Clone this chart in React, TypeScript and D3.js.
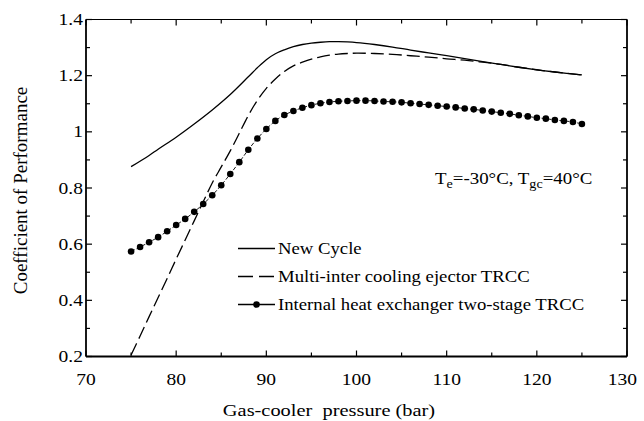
import React from 'react';
import * as d3 from 'd3';

// ---- data ----
const xTicks = [70, 80, 90, 100, 110, 120, 130];
const yTicks = [0.2, 0.4, 0.6, 0.8, 1.0, 1.2, 1.4];

const newCycleP = [75, 77, 78, 80, 82, 84, 86, 88, 89, 90, 91, 92, 93, 94, 95, 96, 97, 98, 99, 100, 102, 104, 106, 108, 110, 112, 114, 116, 118, 120, 122, 125];
const newCycleCOP = [0.876, 0.916, 0.938, 0.981, 1.028, 1.078, 1.133, 1.196, 1.228, 1.257, 1.278, 1.292, 1.303, 1.311, 1.316, 1.319, 1.321, 1.321, 1.320, 1.318, 1.311, 1.302, 1.291, 1.281, 1.271, 1.261, 1.250, 1.240, 1.230, 1.221, 1.213, 1.2025];

const ejectorP = [75, 76, 77, 78, 79, 80, 81, 82, 83, 84, 85, 86, 87, 88, 89, 90, 91, 92, 93, 94, 95, 96, 97, 98, 99, 100, 102, 104, 106, 108, 110, 112, 114, 116, 118, 120, 122, 125];
const ejectorCOP = [0.205, 0.273, 0.342, 0.410, 0.478, 0.547, 0.615, 0.683, 0.751, 0.818, 0.875, 0.932, 0.995, 1.058, 1.112, 1.155, 1.188, 1.215, 1.235, 1.248, 1.259, 1.267, 1.273, 1.277, 1.279, 1.280, 1.279, 1.276, 1.271, 1.266, 1.260, 1.255, 1.248, 1.240, 1.230, 1.221, 1.213, 1.2025];

const ihxP = [75, 76, 77, 78, 79, 80, 81, 82, 83, 84, 85, 86, 87, 88, 89, 90, 91, 92, 93, 94, 95, 96, 97, 98, 99, 100, 101, 102, 103, 104, 105, 106, 107, 108, 109, 110, 111, 112, 113, 114, 115, 116, 117, 118, 119, 120, 121, 122, 123, 124, 125];
const ihxCOP = [0.574, 0.590, 0.607, 0.625, 0.646, 0.668, 0.690, 0.715, 0.743, 0.774, 0.810, 0.850, 0.892, 0.936, 0.976, 1.010, 1.039, 1.060, 1.074, 1.086, 1.095, 1.102, 1.106, 1.109, 1.110, 1.111, 1.111, 1.110, 1.108, 1.107, 1.105, 1.102, 1.099, 1.096, 1.093, 1.090, 1.087, 1.083, 1.080, 1.076, 1.072, 1.068, 1.064, 1.059, 1.055, 1.050, 1.047, 1.042, 1.039, 1.035, 1.028];

const legendLabels = ['New Cycle', 'Multi-inter cooling ejector TRCC', 'Internal heat exchanger two-stage TRCC'];
const xLabel = 'Gas-cooler  pressure (bar)';
const yLabel = 'Coefficient of Performance';

const W = 644, H = 421;
const M = { left: 86, right: 627, top: 19.5, bottom: 356.5 };
const FONT = "'Liberation Serif', 'Times New Roman', Times, 'Nimbus Roman', 'DejaVu Serif', serif";

export default function App() {
  const x = d3.scaleLinear().domain([70, 130]).range([M.left, M.right]);
  const y = d3.scaleLinear().domain([0.2, 1.4]).range([M.bottom, M.top]);

  const line = d3.line<[number, number]>()
    .x(d => x(d[0])).y(d => y(d[1]))
    .curve(d3.curveCatmullRom.alpha(0.5));

  const newCycle: [number, number][] = newCycleP.map((p, i) => [p, newCycleCOP[i]]);
  const ejector: [number, number][] = ejectorP.map((p, i) => [p, ejectorCOP[i]]);
  const ihx: [number, number][] = ihxP.map((p, i) => [p, ihxCOP[i]]);

  const xMajor = x.ticks(6);
  const xMinor = d3.range(75, 130, 10);
  const yMinor = d3.range(0.3, 1.4, 0.2);

  const fmt = (v: number) => String(+v.toFixed(1));

  const legendX0 = 238, legendX1 = 275, legendTextX = 278;
  const legendY = [248.5, 276.5, 304.5];
  const ts = { fontFamily: FONT } as React.CSSProperties;

  return (
    <svg width={W} height={H} style={{ position: 'absolute', left: 0, top: 0, background: '#fff' }}>
      {/* curves */}
      <path d={line(newCycle) || ''} fill="none" stroke="#000" strokeWidth={1.3} />
      <path d={line(ejector) || ''} fill="none" stroke="#000" strokeWidth={1.3} strokeDasharray="13,5" />
      <path d={line(ihx) || ''} fill="none" stroke="#000" strokeWidth={0.9} strokeDasharray="4,2" />
      {ihx.map((d, i) => (
        <circle key={i} cx={x(d[0])} cy={y(d[1])} r={3.3} fill="#000" />
      ))}

      {/* frame */}
      <line x1={M.left} x2={M.right} y1={M.top} y2={M.top} stroke="#000" strokeWidth={1.2} />
      <line x1={M.left} x2={M.right} y1={M.bottom} y2={M.bottom} stroke="#000" strokeWidth={1.8} />
      <line x1={M.left} x2={M.left} y1={M.top} y2={M.bottom} stroke="#000" strokeWidth={1.8} />
      <line x1={M.right} x2={M.right} y1={M.top} y2={M.bottom} stroke="#000" strokeWidth={1.8} />

      {/* x ticks */}
      {xMajor.map(v => (
        <g key={'xm' + v}>
          <line x1={x(v)} x2={x(v)} y1={M.bottom} y2={M.bottom - 6} stroke="#000" strokeWidth={1.2} />
          <line x1={x(v)} x2={x(v)} y1={M.top} y2={M.top + 6} stroke="#000" strokeWidth={1.2} />
        </g>
      ))}
      {xMinor.map(v => (
        <g key={'xn' + v}>
          <line x1={x(v)} x2={x(v)} y1={M.bottom} y2={M.bottom - 4} stroke="#000" strokeWidth={1.2} />
          <line x1={x(v)} x2={x(v)} y1={M.top} y2={M.top + 4} stroke="#000" strokeWidth={1.2} />
        </g>
      ))}
      {/* y ticks */}
      {yTicks.map(v => (
        <g key={'ym' + v}>
          <line x1={M.left} x2={M.left + 6} y1={y(v)} y2={y(v)} stroke="#000" strokeWidth={1.2} />
          <line x1={M.right} x2={M.right - 6} y1={y(v)} y2={y(v)} stroke="#000" strokeWidth={1.2} />
        </g>
      ))}
      {yMinor.map(v => (
        <g key={'yn' + v}>
          <line x1={M.left} x2={M.left + 4} y1={y(v)} y2={y(v)} stroke="#000" strokeWidth={1.2} />
          <line x1={M.right} x2={M.right - 4} y1={y(v)} y2={y(v)} stroke="#000" strokeWidth={1.2} />
        </g>
      ))}

      {/* tick labels */}
      {xTicks.map((v, i) => {
        const last = i === xTicks.length - 1;
        const tx = last ? x(v) + 10 : x(v);
        return (
          <text key={'xl' + v} style={ts} transform={`translate(${tx},385) scale(1.22,1)`} textAnchor={last ? 'end' : 'middle'} fontSize={16}>
            {v}
          </text>
        );
      })}
      {yTicks.map(v => (
        <text key={'yl' + v} style={ts} transform={`translate(83,${y(v) + 5.5}) scale(1.22,1)`} textAnchor="end" fontSize={16}>
          {fmt(v)}
        </text>
      ))}

      {/* axis titles */}
      <text style={{ ...ts, whiteSpace: 'pre' }} transform="translate(329,416) scale(1.2,1)" textAnchor="middle" fontSize={17}>
        {xLabel}
      </text>
      <text style={ts} transform="translate(27,190.5) rotate(-90)" textAnchor="middle" fontSize={19}>
        {yLabel}
      </text>

      {/* annotation */}
      <text style={ts} transform="translate(435,184) scale(1.18,1)" fontSize={16}>
        <tspan>T</tspan>
        <tspan fontSize={12} dy={4}>e</tspan>
        <tspan dy={-4}>=-30°C, T</tspan>
        <tspan fontSize={12} dy={4}>gc</tspan>
        <tspan dy={-4}>=40°C</tspan>
      </text>

      {/* legend */}
      <line x1={legendX0} x2={legendX1} y1={legendY[0]} y2={legendY[0]} stroke="#000" strokeWidth={1.3} />
      <line x1={legendX0} x2={legendX1} y1={legendY[1]} y2={legendY[1]} stroke="#000" strokeWidth={1.3} strokeDasharray="15,6" />
      <line x1={legendX0} x2={legendX1} y1={legendY[2]} y2={legendY[2]} stroke="#000" strokeWidth={1.3} />
      <circle cx={(legendX0 + legendX1) / 2} cy={legendY[2]} r={3.3} fill="#000" />
      {legendLabels.map((t, i) => (
        <text key={t} style={ts} transform={`translate(${legendTextX},${legendY[i] + 5.5}) scale(1.17,1)`} fontSize={16}>
          {t}
        </text>
      ))}
    </svg>
  );
}
